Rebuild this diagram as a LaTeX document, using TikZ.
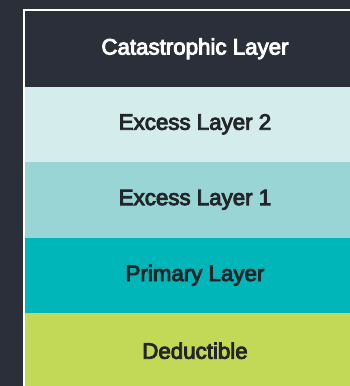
\documentclass[tikz,border=0pt]{standalone}
\usepackage{fontspec}
\setmainfont{Liberation Sans}[BoldFont={Liberation Sans}, BoldFeatures={FakeBold=4}]
\usetikzlibrary{positioning}

\definecolor{slate}{HTML}{2B2F3A}
\definecolor{mist}{HTML}{D4ECEC}
\definecolor{aqua}{HTML}{9AD5D6}
\definecolor{teal}{HTML}{00B6B9}
\definecolor{lime}{HTML}{C1D957}
\definecolor{ink}{HTML}{222629}

\begin{document}
\begin{tikzpicture}[x=1pt, y=1pt, node distance=0pt,
		layer/.style = {shape=rectangle, inner sep=0pt, outer sep=0pt,
	minimum width=340pt, minimum height=75.5pt, text=ink,
	font=\fontsize{22.3}{26}\selectfont\bfseries}]
			% background and frame
			\fill[slate] (0,0) rectangle (350,-386);
			\useasboundingbox (0,0) rectangle (350,-386);
			\clip (0,0) rectangle (350,-386);
			% the layers, top to bottom
			\node[layer, fill=slate, text=white, anchor=north west] (cat) at (25,-11) {Catastrophic Layer};
			\node[layer, fill=mist, below=of cat] (xs2) {Excess Layer 2};
			\node[layer, fill=aqua, below=of xs2] (xs1) {Excess Layer 1};
			\node[layer, fill=teal, below=of xs1] (prim) {Primary Layer};
			\node[layer, fill=lime, below=of prim] (ded) {Deductible};
			\draw[white, line width=2pt] ([xshift=-1pt]ded.south west) |- ([yshift=1pt]cat.north east);
		\end{tikzpicture}
\end{document}
